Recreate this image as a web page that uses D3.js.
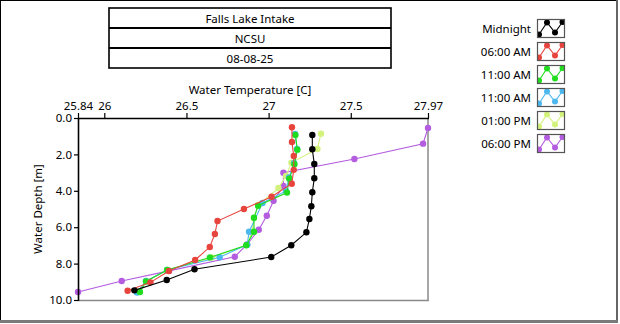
<!DOCTYPE html>
<html><head><meta charset="utf-8">
<script src="https://cdn.jsdelivr.net/npm/d3@7"></script>
<style>
html,body{margin:0;padding:0;background:#fff;}
svg{display:block;font-family:"Noto Sans","Open Sans",sans-serif;}
</style></head>
<body><svg id="c" width="620" height="324"></svg>
<script>
// ---- data ----
const titleLines = ["Falls Lake Intake", "NCSU", "08-08-25"];
const seriesNames = ["Midnight", "06:00 AM", "11:00 AM", "11:00 AM", "01:00 PM", "06:00 PM"];
const seriesColors = ["#000000", "#e8443e", "#1fdc1f", "#4db8ee", "#d2f27c", "#b45ce0"];
const xTickValues = [25.84, 26, 26.5, 27, 27.5, 27.97];
const xTickLabels = ["25.84", "26", "26.5", "27", "27.5", "27.97"];
const yTickValues = [0, 2, 4, 6, 8, 10];
const yTickLabels = ["0.0", "2.0", "4.0", "6.0", "8.0", "10.0"];
const xDomain = [25.84, 27.97];
const yDomain = [0, 10];

const midnightTemp  = [27.266, 27.266, 27.278, 27.278, 27.266, 27.26, 27.248, 27.23, 27.138, 27.016, 26.549, 26.38, 26.183];
const midnightDepth = [0.93, 1.72, 2.53, 3.31, 4.08, 4.85, 5.55, 6.28, 6.99, 7.64, 8.31, 8.90, 9.47];
const am6Temp  = [27.142, 27.142, 27.153, 27.153, 27.141, 27.018, 26.85, 26.689, 26.673, 26.642, 26.553, 26.393, 26.281, 26.142];
const am6Depth = [0.51, 1.32, 2.09, 2.85, 3.61, 4.33, 5.0, 5.66, 6.37, 7.09, 7.80, 8.41, 9.03, 9.49];
const am11aTemp  = [27.163, 27.175, 27.157, 27.126, 27.112, 26.936, 26.911, 26.911, 26.864, 26.643, 26.382, 26.254, 26.217];
const am11aDepth = [0.93, 1.74, 2.54, 3.34, 4.10, 4.82, 5.48, 6.25, 6.99, 7.66, 8.35, 8.98, 9.56];
const am11bTemp  = [27.161, 27.173, 27.155, 27.124, 27.106, 26.963, 26.881, 26.87, 26.702, 26.382, 26.254, 26.199];
const am11bDepth = [0.88, 1.70, 2.47, 3.27, 4.01, 4.67, 6.25, 6.96, 7.65, 8.35, 8.96, 9.59];
const pm1Temp  = [27.319, 27.297, 27.139, 27.106, 27.06, 26.936, 26.911, 26.899, 26.868, 26.656, 26.388, 26.254, 26.211];
const pm1Depth = [0.86, 1.70, 2.45, 3.19, 3.85, 4.78, 5.49, 6.26, 6.98, 7.66, 8.35, 8.96, 9.53];
const pm6Temp  = [27.97, 27.94, 27.522, 27.09, 27.09, 27.03, 26.989, 26.94, 26.869, 26.794, 26.394, 26.106, 25.84];
const pm6Depth = [0.55, 1.41, 2.25, 3.01, 3.74, 4.55, 5.37, 6.14, 6.95, 7.62, 8.40, 8.96, 9.56];

const seriesTemps  = [midnightTemp, am6Temp, am11aTemp, am11bTemp, pm1Temp, pm6Temp];
const seriesDepths = [midnightDepth, am6Depth, am11aDepth, am11bDepth, pm1Depth, pm6Depth];

// ---- drawing ----
const FS = 11.5;
const svg = d3.select("#c");
const plot = {left: 78, right: 428, top: 118, bottom: 300};

// outer frame
svg.append("line").attr("x1",0).attr("x2",617).attr("y1",0.5).attr("y2",0.5).attr("stroke","#000");
svg.append("line").attr("x1",0.5).attr("x2",0.5).attr("y1",0).attr("y2",321).attr("stroke","#000");
svg.append("rect").attr("x",616).attr("y",0).attr("width",2).attr("height",323).attr("fill","#666");
svg.append("rect").attr("x",0).attr("y",320).attr("width",618).attr("height",3).attr("fill","#7a7a7a");

// title box
const tb = {x: 109, y: 8, w: 282, rowH: 20};
titleLines.forEach((t, i) => {
  svg.append("text").attr("x", tb.x + tb.w/2).attr("y", tb.y + tb.rowH*i + tb.rowH/2)
    .attr("text-anchor","middle").attr("dominant-baseline","central")
    .attr("font-size", FS).attr("fill","#000").text(t);
});
svg.append("rect").attr("x", tb.x).attr("y", tb.y).attr("width", tb.w).attr("height", tb.rowH*3)
  .attr("fill","none").attr("stroke","#000").attr("stroke-width",1.6);
[1,2].forEach(i => {
  svg.append("line").attr("x1", tb.x).attr("x2", tb.x+tb.w)
    .attr("y1", tb.y + tb.rowH*i).attr("y2", tb.y + tb.rowH*i)
    .attr("stroke","#000").attr("stroke-width",2);
});

// scales
const x = d3.scaleLinear().domain(xDomain).range([plot.left, plot.right]);
const y = d3.scaleLinear().domain(yDomain).range([plot.top, plot.bottom]);

// plot frame
svg.append("line").attr("x1",plot.right).attr("x2",plot.right).attr("y1",plot.top).attr("y2",plot.bottom+1)
  .attr("stroke","#8a8a8a").attr("stroke-width",1.5);
svg.append("line").attr("x1",plot.left).attr("x2",plot.right+0.75).attr("y1",plot.bottom+0.5).attr("y2",plot.bottom+0.5)
  .attr("stroke","#8a8a8a").attr("stroke-width",1.5);

// series (draw last series first so Midnight sits on top)
svg.append("clipPath").attr("id","pc").append("rect")
  .attr("x", plot.left-4).attr("y", plot.top).attr("width", plot.right-plot.left+8).attr("height", plot.bottom-plot.top+4);
const gSeries = svg.append("g").attr("clip-path","url(#pc)");
const line = d3.line().x(d => x(d[0])).y(d => y(d[1]));
for (let s = seriesNames.length-1; s >= 0; s--) {
  const pts = seriesTemps[s].map((t, i) => [t, seriesDepths[s][i]]);
  gSeries.append("path").datum(pts).attr("d", line).attr("fill","none")
    .attr("stroke", seriesColors[s]).attr("stroke-width", 1.1);
  gSeries.selectAll(null).data(pts).enter().append("circle")
    .attr("cx", d => x(d[0])).attr("cy", d => y(d[1])).attr("r", 3.2)
    .attr("fill", seriesColors[s]);
}

// axes
const xAxis = d3.axisTop(x).tickValues(xTickValues).tickSize(5).tickPadding(3)
  .tickFormat((d,i) => xTickLabels[i]);
const gx = svg.append("g").attr("transform", `translate(0,${plot.top})`).call(xAxis);
gx.select(".domain").attr("stroke","#000").attr("stroke-width",1.6).attr("d", `M${plot.left},0.5H${plot.right+1}`);
gx.selectAll(".tick line").attr("stroke","#000").attr("stroke-width",1.2);
gx.selectAll(".tick text").attr("font-size",FS).attr("fill","#000").attr("font-family",'"Noto Sans",sans-serif');

const yAxis = d3.axisLeft(y).tickValues(yTickValues).tickSize(4).tickPadding(2)
  .tickFormat((d,i) => yTickLabels[i]);
const gy = svg.append("g").attr("transform", `translate(${plot.left},0)`).call(yAxis);
gy.select(".domain").attr("stroke","#000").attr("stroke-width",1.6).attr("d", `M0.5,${plot.top}V${plot.bottom+1}`);
gy.selectAll(".tick line").attr("stroke","#000").attr("stroke-width",1.2);
gy.selectAll(".tick text").attr("font-size",FS).attr("fill","#000").attr("font-family",'"Noto Sans",sans-serif');

// axis titles
svg.append("text").attr("x", (plot.left+plot.right)/2 - 3).attr("y", 89)
  .attr("text-anchor","middle").attr("dominant-baseline","central").attr("font-size",FS)
  .text("Water Temperature [C]");
svg.append("text").attr("transform", `translate(37,${(plot.top+plot.bottom)/2}) rotate(-90)`)
  .attr("text-anchor","middle").attr("dominant-baseline","central").attr("font-size",FS)
  .text("Water Depth [m]");

// legend
const lg = {boxX: 537, top: 19, step: 23, bw: 28, bh: 19, textX: 531};
const iconPts = [[2,15.5],[10,3.5],[18,13.5],[25.5,3]];
seriesNames.forEach((name, i) => {
  const by = lg.top + i*lg.step;
  svg.append("text").attr("x", lg.textX).attr("y", by + lg.bh/2 - 0.5)
    .attr("text-anchor","end").attr("dominant-baseline","central").attr("font-size",FS).text(name);
  const g = svg.append("g").attr("transform", `translate(${lg.boxX},${by})`);
  g.append("clipPath").attr("id","lc"+i).append("rect").attr("width",lg.bw).attr("height",lg.bh);
  const gi = g.append("g").attr("clip-path",`url(#lc${i})`);
  gi.append("rect").attr("width",lg.bw).attr("height",lg.bh).attr("fill","#fff");
  gi.append("path").attr("d", d3.line()(iconPts)).attr("fill","none").attr("stroke",seriesColors[i]).attr("stroke-width",1.1);
  gi.selectAll(null).data(iconPts).enter().append("circle")
    .attr("cx", d => d[0]).attr("cy", d => d[1]).attr("r", 3).attr("fill", seriesColors[i]);
  g.append("rect").attr("x",0.5).attr("y",0.5).attr("width",lg.bw-1).attr("height",lg.bh-1)
    .attr("fill","none").attr("stroke","#555").attr("stroke-width",1.2);
});
</script></body></html>
